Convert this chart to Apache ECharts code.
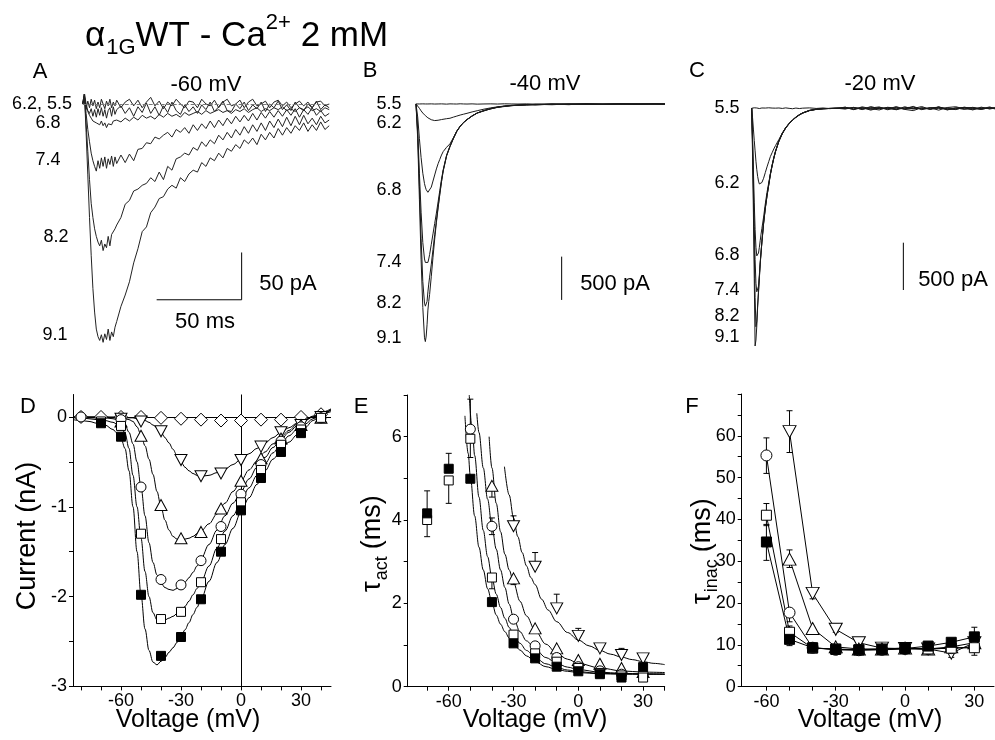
<!DOCTYPE html>
<html><head><meta charset="utf-8">
<script src="https://cdn.jsdelivr.net/npm/echarts@6/dist/echarts.min.js"></script>
<style>html,body{margin:0;padding:0;background:#fff}#c{width:995px;height:740px}</style>
</head><body><div id="c"></div><script>
const FONT = '"Liberation Sans", Arial, Helvetica, sans-serif';

// ===== Panel A (-60 mV), time in ms, current in pA =====
const tA = [0,1,2,3,4,5,6,7,8,9,10,11,12,13,14,15,16,17,18,19,20,22.5,25,27.5,30,32.5,35,37.5,40,42.5,45,47.5,50,52.5,55,57.5,60,62.5,65,67.5,70,72.5,75,77.5,80,82.5,85,87.5,90,92.5,95,97.5,100,102.5,105,107.5,110,112.5,115,117.5,120,122.5,125,127.5,130,132.5,135,137.5,140,142.5,145];
const a55 = [0,9,-5,3,-4,5,-2,4,-5,2,-4,5,0,-5,3,-2,5,-4,2,-2,4,
  -4,2,5,-2,4,-4,2,7,-2,3,-5,2,-2,5,0,-4,3,2,-4,5,0,-2,4,-4,2,5,-2,0,4,-4,2,5,-2,0,3,-4,2,4,-2,2,-4,0,3,-2,2,-4,2,3,-2,0];
const a62 = [0,12,0,-7,-10,-5,-13,-6,-14,-5,-12,-4,-13,-6,-15,-7,-4,-13,-3,-11,-6,
  -2,-10,-4,-13,-3,-9,1,-10,-3,-12,-2,-9,2,-7,-11,-1,-8,-3,-10,-1,-6,2,-8,-3,3,-7,-8,0,-5,2,-7,-1,-5,2,-8,0,-4,3,-6,-1,-7,2,-4,-7,0,-4,3,-6,-1,-4];
const a68 = [0,5,-4,-8,-12,-15,-18,-16,-20,-19,-22,-18,-23,-20,-25,-21,-19,-22,-18,-20,-17,
  -19,-15,-18,-14,-17,-12,-15,-13,-16,-11,-14,-10,-13,-11,-14,-9,-12,-10,-8,-11,-7,-10,-8,-6,-9,-7,-10,-6,-8,-5,-9,-6,-4,-8,-5,-7,-4,-6,-3,-7,-5,-8,-4,-6,-3,-7,-5,-8,-4,-6];
const a74 = [0,8,-10,-27,-40,-52,-60,-66,-71,-60,-68,-57,-66,-56,-68,-58,-64,-55,-66,-56,-63,
  -54,-62,-53,-60,-48,-47,-41,-42,-35,-37,-33,-30,-35,-27,-30,-25,-31,-22,-28,-21,-26,-18,-25,-17,-23,-15,-21,-13,-19,-12,-18,-10,-17,-9,-15,-8,-14,-7,-13,-6,-12,-5,-14,-6,-11,-4,-12,-7,-13,-10];
const a82 = [0,8,-20,-50,-80,-105,-120,-132,-140,-146,-150,-144,-155,-148,-152,-140,-150,-138,-140,-132,-128,
  -120,-106,-102,-92,-90,-86,-84,-78,-82,-72,-80,-66,-70,-58,-56,-52,-54,-46,-49,-40,-45,-38,-42,-33,-38,-30,-36,-27,-33,-24,-31,-22,-29,-20,-28,-18,-25,-16,-24,-14,-23,-13,-22,-12,-21,-15,-22,-13,-20,-17];
const a91 = [0,12,-30,-75,-120,-160,-195,-220,-238,-246,-250,-244,-252,-243,-249,-238,-250,-241,-246,-236,-230,
  -214,-202,-188,-168,-153,-135,-130,-115,-109,-100,-98,-90,-86,-89,-78,-82,-74,-70,-72,-62,-66,-57,-60,-52,-57,-47,-50,-43,-47,-38,-42,-36,-43,-32,-38,-30,-36,-26,-33,-25,-31,-23,-28,-20,-29,-22,-28,-19,-27,-23];
const scaleA = {t: 43.5, i: -207, dt: 50, di: 50};   // 50 ms, 50 pA

// ===== Panel B (-40 mV) =====
const tB = [0,1,2,3,4,5,5.5,6,6.5,7,7.5,8,9,10,11,12,13,14,15,16,18,20,22,24,26,28,30,33,36,40,44,48,52,56,60,65,70,80,90,100,110,120,130,140,146.5];
const b55 = [0,5,0,-2,1,-1,0,2,-1,0,1,-2,1,0,-1,2,0,-1,1,0,-2,1,0,-1,2,0,-1,1,-2,0,1,-1,2,0,-1,1,-2,0,1,-1,0,2,-1,0,1];
const b62 = [0,-20,-50,-80,-105,-125,-135,-145,-152,-160,-166,-172,-182,-189,-192,-190,-188,-183,-180,-176,-170,-165,-152,-140,-128,-118,-108,-92,-78,-60,-45,-33,-24,-17,-12,-8,-5,-3,-2,-1,-2,0,-1,0,-1];
const b68 = [0,-150,-400,-620,-800,-920,-960,-990,-1010,-1020,-1024,-1020,-960,-890,-820,-750,-690,-640,-590,-550,-500,-460,-390,-312,-256,-212,-180,-138,-104,-79,-53,-39,-26,-19,-14,-10,-6,-4,-5,-1,-3,1,-2,0,-2];
const b74 = [0,-300,-800,-1250,-1600,-1790,-1830,-1845,-1847,-1830,-1790,-1740,-1620,-1500,-1380,-1260,-1130,-1000,-870,-760,-590,-485,-395,-314,-256,-213,-180,-138,-106,-76,-56,-36,-29,-18,-16,-8,-10,-3,-7,2,-5,0,-3,1,-4];
const b82 = [0,-350,-950,-1550,-2050,-2300,-2335,-2340,-2280,-2170,-2080,-2000,-1850,-1680,-1510,-1350,-1190,-1040,-895,-770,-597,-490,-398,-316,-258,-214,-181,-139,-104,-80,-52,-40,-24,-22,-12,-14,-4,-9,1,-6,-1,-4,3,-2,1];
const b91 = [0,-400,-1100,-1800,-2350,-2700,-2744,-2680,-2550,-2380,-2280,-2200,-1990,-1770,-1560,-1370,-1200,-1045,-900,-775,-600,-493,-400,-318,-260,-215,-182,-140,-105,-75,-58,-35,-30,-16,-18,-6,-12,-2,-8,4,-6,2,-5,3,-2];
const scaleB = {t: 85.7, i: -2263, di: 500};   // 500 pA

// ===== Panel C (-20 mV) =====
const tC = [0,0.5,1,1.5,2,2.5,3,3.5,4,4.5,5,5.5,6,7,8,9,10,11,12,13,14,16,18,20,22,24,26,28,30,34,38,42,46,50,55,60,65,70,75,80,85,90,95,100,105,110,115,120,125,130,135,140,143];
const c55 = [0,20,-10,5,0,-5,3,-2,4,-3,1,-2,3, -4,2,-1,5,-3,2,-4,1, 3,-2,4,-1,-5,2,-3,1, 4,-2,3,-4,1,
  -3,5,-2,6,-4,2,-6,3,1,-5,4,-2,3,-6,2,5,-3,1, 0];
const c62 = [0,-100,-220,-340,-450,-560,-650,-720,-770,-800,-811,-805,-785, -740,-680,-620,-565,-510,-470,-430,-395,
  -330,-262,-205,-160,-125,-95,-70,-50, -24,-12,-5,-2,0, 10,-6,4,-12,8,-3,-14,16,-8,2,-10,14,-5,-9,6,4,-13,8, -4];
const c68 = [0,-300,-650,-1000,-1280,-1470,-1560,-1569,-1530,-1470,-1400,-1330,-1270, -1150,-1010,-890,-790,-690,-600,-522,-452,
  -344,-264,-205,-160,-124,-93,-68,-48, -22,-10,-4,-1,0, -4,8,-10,3,14,-16,9,-6,-3,18,-12,5,-15,3,9,-18,12,-8, 3];
const c74 = [0,-350,-800,-1250,-1600,-1850,-1940,-1956,-1880,-1760,-1630,-1520,-1410, -1210,-1050,-920,-808,-695,-605,-525,-455,
  -346,-266,-206,-162,-125,-94,-69,-49, -23,-10,-5,-2,0, 6,-12,15,-4,-18,10,3,-9,20,-15,6,10,-7,-14,12,-3,-10,5, -6];
const c82 = [0,-400,-900,-1500,-2000,-2309,-2250,-2080,-1930,-1790,-1640,-1520,-1410, -1215,-1055,-925,-812,-698,-608,-528,-458,
  -348,-268,-208,-163,-126,-95,-70,-50, -24,-11,-5,-2,0, -8,10,-14,18,-5,9,-16,6,12,-10,4,-20,8,16,-6,-12,7,-4, 9];
const c91 = [0,-500,-1100,-1800,-2513,-2450,-2300,-2100,-1950,-1800,-1650,-1530,-1420, -1220,-1060,-930,-815,-700,-610,-530,-460,
  -350,-270,-210,-165,-128,-97,-72,-52, -25,-12,-6,-3,-1, 12,-15,8,-20,5,-10,18,-12,-25,6,-8,15,-18,4,-12,10,-6,14, -5];
const scaleC = {t: 89.2, i: -1921, di: 500};   // 500 pA

// ===== Panel D: I-V (nA) =====
const vD = [-80,-70,-60,-50,-40,-30,-20,-10,0,10,20,30,40];
const dDiamond = [0,0,0,0,-0.01,-0.02,-0.03,-0.04,-0.04,-0.03,-0.03,0,0.03];
const dDown    = [null,null,-0.02,-0.05,-0.16,-0.48,-0.66,-0.63,-0.48,-0.33,-0.17,-0.09,0];
const dUp      = [null,null,-0.05,-0.21,-0.98,-1.35,-1.28,-1.02,-0.71,-0.46,-0.24,-0.09,-0.01];
const dCircle  = [0,null,-0.03,-0.78,-1.81,-1.87,-1.60,-1.22,-0.86,-0.53,-0.27,-0.11,-0.01];
const dSquare  = [null,-0.05,-0.10,-1.30,-2.25,-2.17,-1.84,-1.36,-0.95,-0.59,-0.31,-0.14,-0.01];
const dFilled  = [null,-0.07,-0.22,-1.98,-2.66,-2.45,-2.03,-1.50,-1.04,-0.68,-0.39,-0.18,null];
const vDFit = [-84,-80,-76,-72,-68,-64,-62,-60,-58,-56,-54,-52,-50,-48,-46,-44,-42,-40,-38,-36,-34,-32,-30,-28,-26,-24,-22,-20,-16,-12,-8,-4,0,4,8,12,16,20,24,28,32,36,40,45];
const fitDFilled = [-0.03,-0.04,-0.05,-0.07,-0.09,-0.14,-0.18,-0.24,-0.35,-0.6,-1.0,-1.5,-1.98,-2.36,-2.6,-2.73,-2.76,-2.72,-2.68,-2.62,-2.57,-2.51,-2.45,-2.37,-2.29,-2.2,-2.12,-2.03,-1.83,-1.62,-1.42,-1.24,-1.06,-0.9,-0.75,-0.6,-0.47,-0.37,-0.28,-0.2,-0.12,-0.04,0.02,0.08];
const fitDSquare = [-0.01,-0.01,-0.02,-0.03,-0.04,-0.06,-0.08,-0.11,-0.18,-0.35,-0.65,-1.0,-1.35,-1.72,-2.0,-2.18,-2.26,-2.27,-2.26,-2.24,-2.22,-2.19,-2.16,-2.11,-2.05,-1.98,-1.91,-1.84,-1.66,-1.46,-1.27,-1.1,-0.94,-0.79,-0.65,-0.52,-0.4,-0.3,-0.21,-0.14,-0.08,-0.02,0.03,0.08];
const fitDCircle = [0,0,-0.01,-0.01,-0.01,-0.02,-0.03,-0.05,-0.09,-0.17,-0.3,-0.5,-0.78,-1.1,-1.4,-1.62,-1.76,-1.85,-1.9,-1.92,-1.93,-1.91,-1.88,-1.84,-1.79,-1.73,-1.66,-1.58,-1.42,-1.26,-1.1,-0.96,-0.83,-0.69,-0.56,-0.45,-0.34,-0.25,-0.17,-0.1,-0.04,0,0.04,0.08];
const fitDUp     = [0,0,0,0,0,-0.01,-0.01,-0.01,-0.02,-0.03,-0.05,-0.11,-0.2,-0.32,-0.47,-0.64,-0.83,-1.0,-1.15,-1.26,-1.33,-1.36,-1.37,-1.36,-1.35,-1.33,-1.3,-1.27,-1.19,-1.08,-0.96,-0.83,-0.71,-0.59,-0.49,-0.39,-0.3,-0.22,-0.15,-0.08,-0.03,0.01,0.05,0.09];
const fitDDown   = [0,0,0,0,0,0,0,0,-0.01,-0.01,-0.01,-0.02,-0.03,-0.04,-0.06,-0.09,-0.12,-0.17,-0.23,-0.29,-0.36,-0.43,-0.5,-0.56,-0.6,-0.63,-0.65,-0.66,-0.65,-0.62,-0.58,-0.53,-0.47,-0.41,-0.35,-0.29,-0.23,-0.17,-0.12,-0.07,-0.03,0,0.03,0.06];

// ===== Panel E: tau activation (ms) =====
const vE = [-70,-60,-50,-40,-30,-20,-10,0,10,20,30];
const eFilled = [4.16,5.23,4.99,2.03,1.04,0.68,0.48,0.37,0.30,0.22,0.47];
const eSquare = [4.0,4.95,5.95,2.62,1.25,0.8,0.6,0.45,0.33,0.27,0.22];
const eCircle = [null,null,6.18,3.85,1.62,0.98,0.7,0.48,0.38,0.3,0.3];
const eUp     = [null,null,null,4.82,2.6,1.4,0.92,0.64,0.55,0.45,0.35];
const eDown   = [null,null,null,null,3.85,2.88,1.88,1.22,0.92,0.76,0.68];
const errE = [[-70,3.6,4.7],[-60,5.23,5.6],[-60,4.4,4.95],[-50,5.5,5.95],[-50,6.18,6.9],[-40,4.55,4.82],[-40,3.65,4.05],[-40,2.35,2.62],
  [-30,2.45,2.6],[-30,3.85,4.1],[-20,2.88,3.22],[-10,1.88,2.22],[0,1.22,1.4],[10,0.92,1.0],[20,0.76,0.92],[30,0.47,0.55]];
const vEFitFilled = [-52.5,-51,-50,-48,-46,-44,-42,-40,-38,-36,-34,-32,-30,-27,-24,-20,-15,-10,-5,0,10,20,30,40];
const eFitFilled  = [6.5,5.6,5.05,4.1,3.35,2.8,2.35,2.02,1.72,1.5,1.32,1.17,1.04,0.88,0.74,0.6,0.48,0.41,0.37,0.34,0.31,0.3,0.3,0.3];
const vEFitSquare = [-50.5,-49,-48,-46,-44,-42,-40,-38,-36,-34,-32,-30,-27,-24,-20,-15,-10,-5,0,10,20,30,40];
const eFitSquare  = [7.0,6.1,5.55,4.55,3.75,3.12,2.62,2.22,1.9,1.64,1.42,1.25,1.04,0.87,0.7,0.55,0.46,0.4,0.36,0.32,0.31,0.3,0.3];
const vEFitCircle = [-47,-46,-44,-42,-40,-38,-36,-34,-32,-30,-27,-24,-20,-15,-10,-5,0,10,20,30,40];
const eFitCircle  = [6.56,6.1,5.25,4.5,3.85,3.3,2.8,2.38,1.98,1.65,1.32,1.1,0.9,0.7,0.56,0.47,0.41,0.35,0.32,0.31,0.3];
const vEFitUp = [-41.3,-40,-38,-36,-34,-32,-30,-27,-24,-20,-15,-10,-5,0,10,20,30,40];
const eFitUp  = [6.0,5.25,4.4,3.72,3.18,2.8,2.5,2.05,1.7,1.35,1.02,0.8,0.66,0.56,0.45,0.38,0.35,0.34];
const vEFitDown = [-34.2,-32,-30,-28,-26,-24,-22,-20,-17,-14,-10,-5,0,5,10,15,20,25,30,35,40];
const eFitDown  = [5.28,4.6,4.05,3.6,3.22,2.9,2.62,2.45,2.1,1.84,1.56,1.3,1.12,0.98,0.87,0.78,0.71,0.65,0.6,0.56,0.53];

// ===== Panel F: tau inactivation (ms) =====
const vF = [-60,-50,-40,-30,-20,-10,0,10,20,30];
const fCircle = [55.3,17.7,9.3,8.8,8.7,8.8,9.0,9.0,9.2,9.5];
const fSquare = [41.0,13.0,9.2,9.0,8.8,9.0,9.2,9.0,9.2,9.3];
const fFilled = [34.6,11.3,9.3,8.9,8.8,8.9,9.1,9.7,10.6,11.9];
const fUp     = [null,30.5,13.9,9.5,9.0,9.0,9.2,9.0,9.5,10.5];
const fDown   = [null,61.0,22.3,13.7,10.5,9.2,9.1,9.0,8.0,10.5];
const errF = [[-60,51,59.5],[-60,38.5,43.8],[-60,30.2,38.8],[-50,56,66],[-50,28.5,32.7],[-50,15.5,18],[-50,12,14.5],[-50,9.8,12.5],
  [-40,21,23],[-40,12.5,14],[-30,13,15],[-20,10,11.5],[20,7,9],[30,10,14.2],[30,7.5,9.5]];

// ---------- helpers ----------
function pairs(xs, ys){ const o=[]; for(let i=0;i<xs.length;i++){ if(ys[i]!==null&&ys[i]!==undefined) o.push([xs[i],ys[i]]);} return o; }
function trace(g, xs, ys, color, w){ return {type:'line', xAxisIndex:g, yAxisIndex:g, data:pairs(xs,ys), symbol:'none', silent:true, lineStyle:{color:color, width:w}, z:2}; }
function marks(g, xs, ys, shape, filled, size, rot){ return {type:'scatter', xAxisIndex:g, yAxisIndex:g, data:pairs(xs,ys), symbol:shape, symbolSize:size, symbolRotate:rot||0, silent:true,
  itemStyle:{color: filled?'#000':'#fff', borderColor:'#000', borderWidth:1, opacity:1}, z:6}; }
function fit(g, xs, ys){ return {type:'line', xAxisIndex:g, yAxisIndex:g, data:pairs(xs,ys), symbol:'none', smooth:0.35, smoothMonotone:'x', silent:true, lineStyle:{color:'#000', width:1}, z:3}; }
function conn(g, xs, ys, shape, filled, size, rot){ return {type:'line', xAxisIndex:g, yAxisIndex:g, data:pairs(xs,ys), symbol:shape, symbolSize:size, symbolRotate:rot||0, showAllSymbol:true, silent:true,
  itemStyle:{color: filled?'#000':'#fff', borderColor:'#000', borderWidth:1}, lineStyle:{color:'#000', width:1}, z:5}; }
function errBars(g, rows, cap){ return {type:'custom', xAxisIndex:g, yAxisIndex:g, data:rows, silent:true, z:4, encode:{x:0, y:[1,2]},
  renderItem:function(p, api){ const x=api.value(0), lo=api.value(1), hi=api.value(2); const a=api.coord([x,lo]), b=api.coord([x,hi]); const s={stroke:'#000', lineWidth:1};
    return {type:'group', children:[{type:'line', shape:{x1:a[0],y1:a[1],x2:b[0],y2:b[1]}, style:s},
      {type:'line', shape:{x1:a[0]-cap,y1:a[1],x2:a[0]+cap,y2:a[1]}, style:s},
      {type:'line', shape:{x1:b[0]-cap,y1:b[1],x2:b[0]+cap,y2:b[1]}, style:s}]}; }}; }
function hidAx(g, min, max){ return {gridIndex:g, type:'value', min:min, max:max, show:false}; }
function visAx(g, min, max, ticks, labels){ return {gridIndex:g, type:'value', min:min, max:max,
  axisLine:{show:true, onZero:false, lineStyle:{color:'#000', width:1}},
  axisTick:{show:true, inside:false, length:4, customValues:ticks, lineStyle:{color:'#000', width:1}},
  axisLabel:{show:true, customValues:labels, color:'#000', fontSize:18, fontFamily:FONT, margin:6},
  splitLine:{show:false}}; }
function T(x, y, text, size, align, va){ align=align||'center'; va=va||'middle';
  return {type:'text', x:x, y:y, silent:true, style:{text:text, font:size+'px '+FONT, fill:'#000', align:align, verticalAlign:va, textAlign:align, textVerticalAlign:va}}; }

const grids = [
  {left:82.7, top:94.5, width:246.5, height:255.4},
  {left:416, top:95.3, width:249, height:259.8},
  {left:751.7, top:98.8, width:243.3, height:264.9},
  {left:73, top:394.5, width:258, height:291.9},
  {left:407.7, top:395, width:257, height:291.7},
  {left:741.7, top:394, width:252.3, height:292.6}
];
const xAxes = [hidAx(0,0,145), hidAx(1,0,146.5), hidAx(2,0,143.1),
  visAx(3,-84,45,[-80,-70,-60,-50,-40,-30,-20,-10,0,10,20,30,40],[-60,-30,0,30]),
  visAx(4,-79,40,[-70,-60,-50,-40,-30,-20,-10,0,10,20,30,40],[-60,-30,0,30]),
  visAx(5,-70.7,38.5,[-60,-50,-40,-30,-20,-10,0,10,20,30],[-60,-30,0,30])];
const yAxes = [hidAx(0,-260,10), hidAx(1,-2900,100), hidAx(2,-2700,100),
  visAx(3,-3,0.25,[-3,-2.5,-2,-1.5,-1,-0.5,0],[-3,-2,-1,0]),
  visAx(4,0,7,[0,1,2,3,4,5,6,7],[0,2,4,6]),
  visAx(5,0,70,[0,5,10,15,20,25,30,35,40,45,50,55,60,65,70],[0,10,20,30,40,50,60])];

const series = [];
// A
const baseA = trace(0, tA, a55, '#222', 1);
baseA.markLine = {silent:true, symbol:'none', label:{show:false}, lineStyle:{color:'#777', width:1, type:[4,2]}, data:[{yAxis:0}]};
series.push(baseA, trace(0,tA,a62,'#222',1), trace(0,tA,a68,'#222',1), trace(0,tA,a74,'#222',1), trace(0,tA,a82,'#222',1), trace(0,tA,a91,'#222',1));
series.push({type:'line', xAxisIndex:0, yAxisIndex:0, symbol:'none', silent:true, lineStyle:{color:'#000', width:1}, z:2,
  data:[[scaleA.t, scaleA.i],[scaleA.t+scaleA.dt, scaleA.i],[scaleA.t+scaleA.dt, scaleA.i+scaleA.di]]});
// B
[b55,b62,b68,b74,b82,b91].forEach(function(v){ series.push(trace(1,tB,v,'#1a1a1a',1)); });
series.push({type:'line', xAxisIndex:1, yAxisIndex:1, symbol:'none', silent:true, lineStyle:{color:'#000', width:1}, data:[[scaleB.t, scaleB.i],[scaleB.t, scaleB.i+scaleB.di]]});
// C
[c55,c62,c68,c74,c82,c91].forEach(function(v){ series.push(trace(2,tC,v,'#1a1a1a',1)); });
series.push({type:'line', xAxisIndex:2, yAxisIndex:2, symbol:'none', silent:true, lineStyle:{color:'#000', width:1}, data:[[scaleC.t, scaleC.i],[scaleC.t, scaleC.i+scaleC.di]]});
// D
const fD = fit(3, vDFit, fitDFilled);
fD.markLine = {silent:true, symbol:'none', label:{show:false}, lineStyle:{color:'#000', width:1, type:'solid'}, data:[{yAxis:0},{xAxis:0}]};
series.push(fD, fit(3,vDFit,fitDSquare), fit(3,vDFit,fitDCircle), fit(3,vDFit,fitDUp), fit(3,vDFit,fitDDown));
series.push(marks(3,vD,dDiamond,'diamond',false,[13,13]), marks(3,vD,dDown,'triangle',false,[12,11],180), marks(3,vD,dUp,'triangle',false,[12,11]),
  marks(3,vD,dCircle,'circle',false,10), marks(3,vD,dSquare,'rect',false,9), marks(3,vD,dFilled,'rect',true,9));
// E
series.push(fit(4,vEFitFilled,eFitFilled), fit(4,vEFitSquare,eFitSquare), fit(4,vEFitCircle,eFitCircle), fit(4,vEFitUp,eFitUp), fit(4,vEFitDown,eFitDown));
series.push(errBars(4, errE, 3));
series.push(marks(4,vE,eDown,'triangle',false,[12,11],180), marks(4,vE,eUp,'triangle',false,[12,11]), marks(4,vE,eCircle,'circle',false,10),
  marks(4,vE,eSquare,'rect',false,9), marks(4,vE,eFilled,'rect',true,9));
// F
series.push(errBars(5, errF, 3));
series.push(conn(5,vF,fDown,'triangle',false,[13,12],180), conn(5,vF,fUp,'triangle',false,[13,12]), conn(5,vF,fCircle,'circle',false,11),
  conn(5,vF,fSquare,'rect',false,10), conn(5,vF,fFilled,'rect',true,10));

// ---------- texts ----------
const g = [];
(function(){
  const ctx = document.createElement('canvas').getContext('2d');
  function w(t, s){ ctx.font = s+'px '+FONT; return ctx.measureText(t).width; }
  const big = 35, small = 22; let x = 85;
  g.push(T(x, 36, 'α', big, 'left')); x += w('α', big) + 1;
  g.push(T(x, 48, '1G', small, 'left')); x += w('1G', small);
  g.push(T(x, 36, 'WT - Ca', big, 'left')); x += w('WT - Ca', big);
  g.push(T(x, 23, '2+', small, 'left')); x += w('2+', small);
  g.push(T(x, 36, ' 2 mM', big, 'left'));
})();
g.push(T(40,72,'A',22), T(370,71,'B',22), T(697,71,'C',22));
g.push(T(206,85,'-60 mV',22), T(545,84,'-40 mV',22), T(880,84,'-20 mV',22));
g.push(T(42,104,'6.2, 5.5',18), T(48,123,'6.8',18), T(48,160,'7.4',18), T(56,237,'8.2',18), T(55,335,'9.1',18));
g.push(T(389,104,'5.5',18), T(389,123,'6.2',18), T(389,190,'6.8',18), T(389,262,'7.4',18), T(389,303,'8.2',18), T(389,338,'9.1',18));
g.push(T(727,108,'5.5',18), T(727,183,'6.2',18), T(727,255,'6.8',18), T(727,290,'7.4',18), T(727,316,'8.2',18), T(727,337,'9.1',18));
g.push(T(288,284,'50 pA',22), T(205,322,'50 ms',22), T(615,284,'500 pA',22), T(953,280,'500 pA',22));
g.push(T(28,407,'D',22), T(361,407,'E',22), T(692,407,'F',22));
g.push(T(188,720,'Voltage (mV)',25), T(535,720,'Voltage (mV)',25), T(870,720,'Voltage (mV)',25));
const curT = T(28,536,'Current (nA)',27); curT.rotation = Math.PI/2; g.push(curT);
function tauLabel(x, y, sub){
  const ctx = document.createElement('canvas').getContext('2d');
  ctx.font = '27px '+FONT; const wt = ctx.measureText('τ').width;
  ctx.font = '18px '+FONT; const ws = ctx.measureText(sub).width;
  return {type:'group', x:x, y:y, rotation:Math.PI/2, children:[
    T(0,0,'τ',27,'left'), T(wt+1,9,sub,18,'left'), T(wt+ws+8,0,'(ms)',27,'left')]};
}
g.push(tauLabel(373, 592, 'act'), tauLabel(703, 604, 'inac'));

const chart = echarts.init(document.getElementById('c'), null, {renderer:'canvas'});
chart.setOption({animation:false, backgroundColor:'#fff', grid:grids, xAxis:xAxes, yAxis:yAxes, series:series, graphic:{elements:g}});
</script></body></html>
